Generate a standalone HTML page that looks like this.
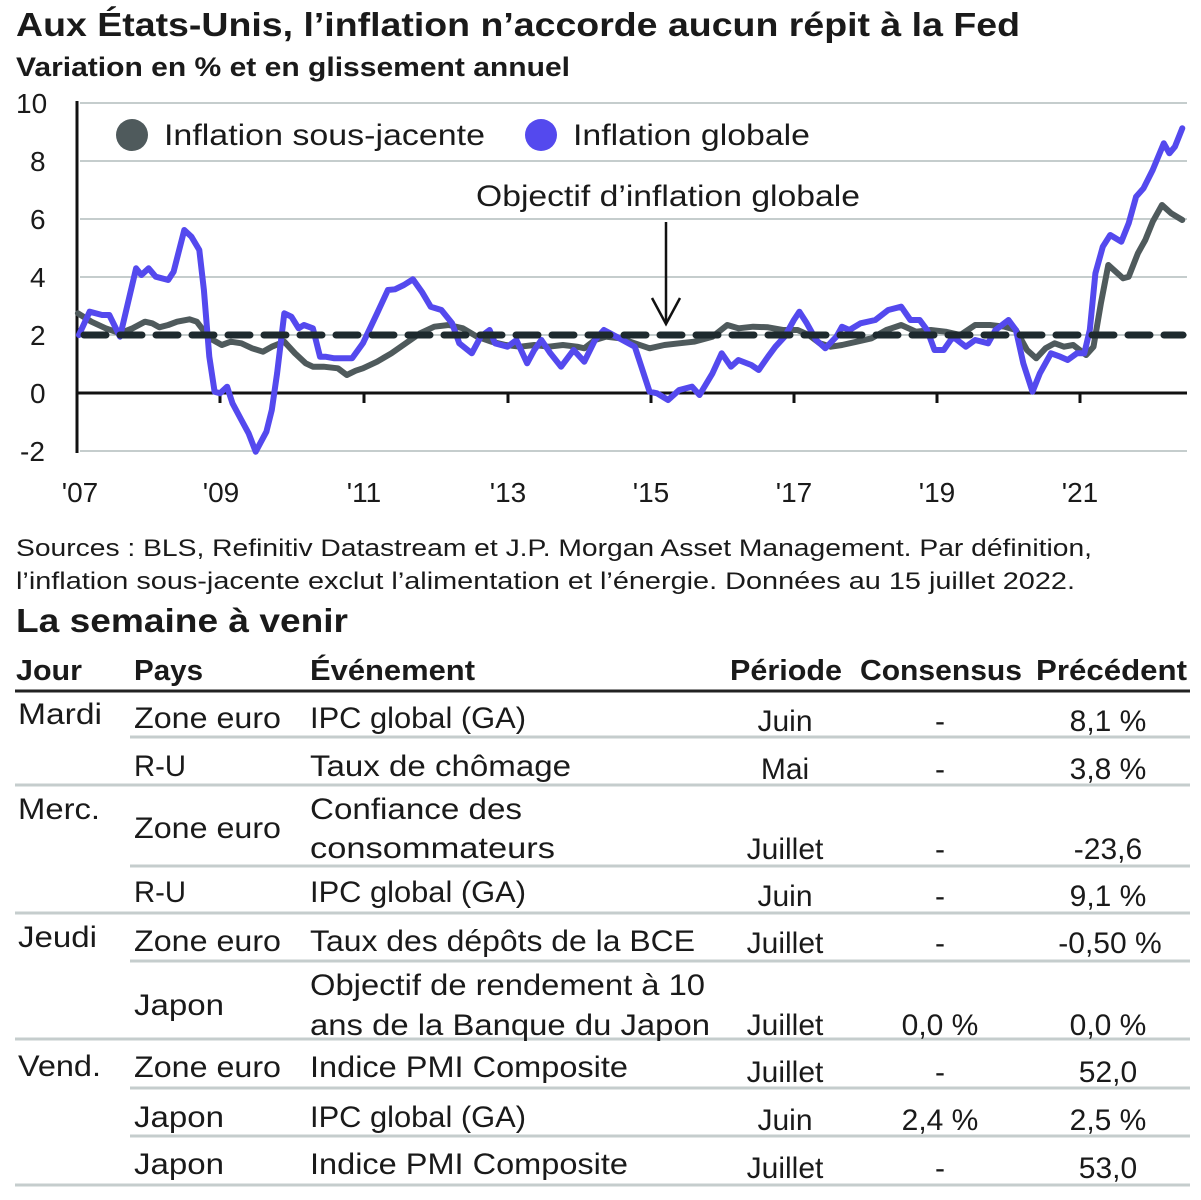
<!DOCTYPE html>
<html><head><meta charset="utf-8"><style>
html,body{margin:0;padding:0;background:#fff;}
svg{display:block;font-family:"Liberation Sans",sans-serif;}
</style></head><body>
<svg id="s" width="1201" height="1200" viewBox="0 0 1201 1200" xmlns="http://www.w3.org/2000/svg">
<rect width="1201" height="1200" fill="#fff"/>
<text x="16" y="36" font-size="33" font-weight="bold" fill="#1a1a1a" textLength="1004" lengthAdjust="spacingAndGlyphs">Aux États-Unis, l’inflation n’accorde aucun répit à la Fed</text>
<text x="16" y="76" font-size="27" font-weight="bold" fill="#1a1a1a" textLength="554" lengthAdjust="spacingAndGlyphs">Variation en % et en glissement annuel</text>
<g stroke="#c5cdcd" stroke-width="2">
<line x1="80" y1="103" x2="1187" y2="103"/><line x1="80" y1="161" x2="1187" y2="161"/>
<line x1="80" y1="219" x2="1187" y2="219"/><line x1="80" y1="277" x2="1187" y2="277"/>
<line x1="80" y1="335" x2="1187" y2="335"/><line x1="80" y1="451" x2="1187" y2="451"/>
</g>
<line x1="77" y1="101" x2="77" y2="453" stroke="#111" stroke-width="3"/>
<line x1="77" y1="393" x2="1187" y2="393" stroke="#111" stroke-width="3"/>
<g stroke="#111" stroke-width="3">
<line x1="220" y1="393" x2="220" y2="403"/><line x1="364" y1="393" x2="364" y2="403"/>
<line x1="508" y1="393" x2="508" y2="403"/><line x1="651" y1="393" x2="651" y2="403"/>
<line x1="794" y1="393" x2="794" y2="403"/><line x1="937" y1="393" x2="937" y2="403"/>
<line x1="1080" y1="393" x2="1080" y2="403"/>
</g>
<g font-size="28" fill="#1a1a1a">
<text x="16" y="113">10</text><text x="30" y="171">8</text><text x="30" y="229">6</text>
<text x="30" y="287">4</text><text x="30" y="345">2</text><text x="30" y="403">0</text><text x="20" y="461">-2</text>
</g>
<g font-size="28" fill="#1a1a1a" text-anchor="middle">
<text x="80" y="502">'07</text><text x="221" y="502">'09</text><text x="364" y="502">'11</text>
<text x="508" y="502">'13</text><text x="651" y="502">'15</text><text x="794" y="502">'17</text>
<text x="937" y="502">'19</text><text x="1080" y="502">'21</text>
</g>
<circle cx="132" cy="135" r="16" fill="#4f5a5c"/>
<text x="164" y="145" font-size="30" fill="#1a1a1a" textLength="321" lengthAdjust="spacingAndGlyphs">Inflation sous-jacente</text>
<circle cx="541" cy="135" r="16" fill="#5449ee"/>
<text x="573" y="145" font-size="30" fill="#1a1a1a" textLength="237" lengthAdjust="spacingAndGlyphs">Inflation globale</text>
<text x="476" y="206" font-size="30" fill="#1a1a1a" textLength="384" lengthAdjust="spacingAndGlyphs">Objectif d’inflation globale</text>
<line x1="666" y1="222" x2="666" y2="324" stroke="#111" stroke-width="2.5"/>
<polyline points="652,298 666,324 680,298" fill="none" stroke="#111" stroke-width="2.5"/>
<polyline id="core" fill="none" stroke="#4f5a5c" stroke-width="6" stroke-linejoin="round" stroke-linecap="round"/>
<polyline id="head" fill="none" stroke="#5449ee" stroke-width="6" stroke-linejoin="round" stroke-linecap="round"/>
<line x1="84" y1="335" x2="1183" y2="335" stroke="#1e2a2e" stroke-width="7" stroke-dasharray="22 14" stroke-linecap="round"/>
<g font-size="24" fill="#1a1a1a">
<text x="16" y="556" textLength="1076" lengthAdjust="spacingAndGlyphs">Sources : BLS, Refinitiv Datastream et J.P. Morgan Asset Management. Par définition,</text>
<text x="16" y="589" textLength="1059" lengthAdjust="spacingAndGlyphs">l’inflation sous-jacente exclut l’alimentation et l’énergie. Données au 15 juillet 2022.</text>
</g>
<text x="16" y="632" font-size="33" font-weight="bold" fill="#1a1a1a" textLength="332" lengthAdjust="spacingAndGlyphs">La semaine à venir</text>
<g font-size="29" font-weight="bold" fill="#1a1a1a" lengthAdjust="spacingAndGlyphs">
<text x="16" y="680" textLength="66" lengthAdjust="spacingAndGlyphs">Jour</text>
<text x="134" y="680" textLength="69" lengthAdjust="spacingAndGlyphs">Pays</text>
<text x="310" y="680" textLength="165" lengthAdjust="spacingAndGlyphs">Événement</text>
<text x="730" y="680" textLength="112" lengthAdjust="spacingAndGlyphs">Période</text>
<text x="860" y="680" textLength="162" lengthAdjust="spacingAndGlyphs">Consensus</text>
<text x="1036" y="680" textLength="151" lengthAdjust="spacingAndGlyphs">Précédent</text>
</g>
<line x1="15" y1="691" x2="1190" y2="691" stroke="#222" stroke-width="3"/>
<g stroke="#c5cdcd" stroke-width="3">
<line x1="130" y1="737" x2="1190" y2="737"/><line x1="15" y1="785" x2="1190" y2="785"/>
<line x1="130" y1="866" x2="1190" y2="866"/><line x1="15" y1="913" x2="1190" y2="913"/>
<line x1="130" y1="961" x2="1190" y2="961"/><line x1="15" y1="1039" x2="1190" y2="1039"/>
<line x1="130" y1="1088" x2="1190" y2="1088"/><line x1="130" y1="1136" x2="1190" y2="1136"/>
<line x1="15" y1="1185" x2="1190" y2="1185"/>
</g>
<g font-size="30" fill="#1a1a1a">
<text x="18" y="724" textLength="84" lengthAdjust="spacingAndGlyphs">Mardi</text>
<text x="18" y="819" textLength="82" lengthAdjust="spacingAndGlyphs">Merc.</text>
<text x="18" y="947" textLength="79" lengthAdjust="spacingAndGlyphs">Jeudi</text>
<text x="18" y="1076" textLength="83" lengthAdjust="spacingAndGlyphs">Vend.</text>
<text x="134" y="728" textLength="147" lengthAdjust="spacingAndGlyphs">Zone euro</text>
<text x="134" y="776" textLength="52" lengthAdjust="spacingAndGlyphs">R-U</text>
<text x="134" y="838" textLength="147" lengthAdjust="spacingAndGlyphs">Zone euro</text>
<text x="134" y="902" textLength="52" lengthAdjust="spacingAndGlyphs">R-U</text>
<text x="134" y="951" textLength="147" lengthAdjust="spacingAndGlyphs">Zone euro</text>
<text x="134" y="1015" textLength="90" lengthAdjust="spacingAndGlyphs">Japon</text>
<text x="134" y="1077" textLength="147" lengthAdjust="spacingAndGlyphs">Zone euro</text>
<text x="134" y="1127" textLength="90" lengthAdjust="spacingAndGlyphs">Japon</text>
<text x="134" y="1174" textLength="90" lengthAdjust="spacingAndGlyphs">Japon</text>
<text x="310" y="728" textLength="216" lengthAdjust="spacingAndGlyphs">IPC global (GA)</text>
<text x="310" y="776" textLength="261" lengthAdjust="spacingAndGlyphs">Taux de chômage</text>
<text x="310" y="819" textLength="212" lengthAdjust="spacingAndGlyphs">Confiance des</text>
<text x="310" y="858" textLength="245" lengthAdjust="spacingAndGlyphs">consommateurs</text>
<text x="310" y="902" textLength="216" lengthAdjust="spacingAndGlyphs">IPC global (GA)</text>
<text x="310" y="951" textLength="385" lengthAdjust="spacingAndGlyphs">Taux des dépôts de la BCE</text>
<text x="310" y="995" textLength="395" lengthAdjust="spacingAndGlyphs">Objectif de rendement à 10</text>
<text x="310" y="1035" textLength="400" lengthAdjust="spacingAndGlyphs">ans de la Banque du Japon</text>
<text x="310" y="1077" textLength="318" lengthAdjust="spacingAndGlyphs">Indice PMI Composite</text>
<text x="310" y="1127" textLength="216" lengthAdjust="spacingAndGlyphs">IPC global (GA)</text>
<text x="310" y="1174" textLength="318" lengthAdjust="spacingAndGlyphs">Indice PMI Composite</text>
</g>
<g font-size="30" fill="#1a1a1a" text-anchor="middle">
<text x="785" y="731">Juin</text><text x="785" y="779">Mai</text><text x="785" y="859">Juillet</text><text x="785" y="906">Juin</text>
<text x="785" y="953">Juillet</text><text x="785" y="1035">Juillet</text><text x="785" y="1082">Juillet</text>
<text x="785" y="1130">Juin</text><text x="785" y="1178">Juillet</text>
<text x="940" y="731">-</text><text x="940" y="779">-</text><text x="940" y="859">-</text><text x="940" y="906">-</text>
<text x="940" y="953">-</text><text x="940" y="1035">0,0 %</text><text x="940" y="1082">-</text>
<text x="940" y="1130">2,4 %</text><text x="940" y="1178">-</text>
<text x="1108" y="731">8,1 %</text><text x="1108" y="779">3,8 %</text><text x="1108" y="859">-23,6</text><text x="1108" y="906">9,1 %</text>
<text x="1110" y="953">-0,50 %</text><text x="1108" y="1035">0,0 %</text><text x="1108" y="1082">52,0</text>
<text x="1108" y="1130">2,5 %</text><text x="1108" y="1178">53,0</text>
</g>
</svg>
<script>
function tr(a,ox,sx){var o=[];for(var i=0;i<a.length;i+=2){o.push((ox+a[i]/sx).toFixed(1)+','+(90+a[i+1]/3).toFixed(1));}return o;}
var h1=[25,735,55,665,90,675,110,675,140,740,185,535,200,555,220,535,240,560,275,570,290,545,320,420,340,440,362,480,375,600,390,800,405,905,420,910,440,890,455,940,480,990,500,1030,520,1085,550,1025,565,960,580,850,600,670,620,680,640,715,655,705,680,715,700,800,715,800,740,805,790,805,820,760,860,670,890,600,910,598,935,585,960,568,985,605,1010,650,1040,660,1070,700,1090,760,1125,790,1150,740,1175,720,1190,760,1225,770,1250,750,1280,820,1300,780,1320,750,1345,790,1375,830,1410,780,1440,815,1470,750,1495,720,1530,740];
var h2=[40,770,80,905,100,910,130,930,160,900,195,890,215,915,250,850,275,790,300,830,320,810,355,825,375,840,400,800,420,770,445,740,470,690,485,665,505,700,530,750,555,775,585,740,600,710,620,720,650,700,690,690,725,660,760,650,785,690,810,690,830,720,850,780,875,780,900,740,935,770,960,750,995,760,1015,720,1050,690,1070,720,1090,820,1115,905,1135,850,1165,790,1190,800,1210,810,1235,790,1255,790,1270,720,1285,550,1305,470,1325,435,1355,455,1375,400,1395,320,1415,295,1440,240,1470,160,1485,190,1500,170,1520,115];
var c1=[22,670,60,695,100,715,140,730,175,715,210,695,230,700,250,712,275,705,300,695,335,688,355,695,380,730,400,750,425,765,450,755,480,760,510,775,540,785,565,770,600,755,630,790,660,820,680,830,710,830,750,835,775,855,800,842,820,835,860,815,900,790,940,760,980,730,1020,710,1060,705,1100,715,1140,740,1180,755,1220,765,1260,770,1300,765,1340,770,1380,765,1420,770,1440,775,1470,750,1500,740,1540,745];
var c2=[40,760,80,775,120,765,160,760,200,755,250,740,290,705,320,715,360,710,400,712,440,720,480,720,510,735,540,760,570,770,600,765,640,755,680,745,720,720,760,705,800,725,840,720,880,725,920,735,960,705,1000,705,1040,710,1070,720,1100,780,1125,805,1150,775,1175,760,1200,770,1225,765,1260,795,1280,770,1300,640,1320,525,1360,565,1375,560,1400,490,1420,450,1440,395,1465,345,1490,370,1520,390];
document.getElementById('head').setAttribute('points',tr(h1,70,2.8).concat(tr(h2,620,2.703)).join(' '));
document.getElementById('core').setAttribute('points',tr(c1,70,2.8).concat(tr(c2,620,2.703)).join(' '));
</script>
</body></html>
